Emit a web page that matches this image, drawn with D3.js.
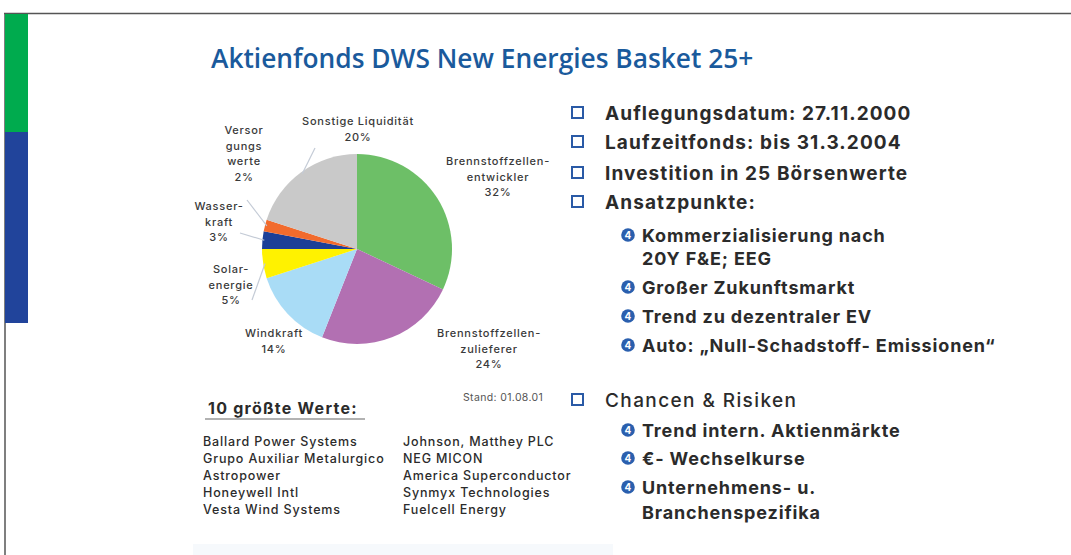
<!DOCTYPE html>
<html>
<head>
<meta charset="utf-8">
<script src="https://cdn.jsdelivr.net/npm/d3@7"></script>
<style>
  body { margin: 0; background: #fff; }
  svg { display: block; }
</style>
</head>
<body>
<div id="chart"></div>
<script>
// pie data
var categories = ["Brennstoffzellen-entwickler", "Brennstoffzellen-zulieferer", "Windkraft", "Solarenergie", "Wasserkraft", "Versorgungswerte", "Sonstige Liquidität"];
var shares = [32, 24, 14, 5, 3, 2, 20];
var sliceColors = ["#6dbf67", "#b270b2", "#a9dcf6", "#fff200", "#1c3f97", "#f26b2d", "#c9c9c9"];
var labelLines = [
    ["Brennstoffzellen-", "entwickler", "32%"],
    ["Brennstoffzellen-", "zulieferer", "24%"],
    ["Windkraft", "14%"],
    ["Solar-", "energie", "5%"],
    ["Wasser-", "kraft", "3%"],
    ["Versor", "gungs", "werte", "2%"],
    ["Sonstige Liquidität", "20%"]
];

// text blocks
var mainPoints = ["Auflegungsdatum: 27.11.2000", "Laufzeitfonds: bis 31.3.2004", "Investition in 25 Börsenwerte", "Ansatzpunkte:"];
var ansatzPoints = [["Kommerzialisierung nach", "20Y F&E; EEG"], ["Großer Zukunftsmarkt"], ["Trend zu dezentraler EV"], ["Auto: „Null-Schadstoff- Emissionen“"]];
var chancenPoints = [["Trend intern. Aktienmärkte"], ["€- Wechselkurse"], ["Unternehmens- u.", "Branchenspezifika"]];
var topHoldingsLeft = ["Ballard Power Systems", "Grupo Auxiliar Metalurgico", "Astropower", "Honeywell Intl", "Vesta Wind Systems"];
var topHoldingsRight = ["Johnson, Matthey PLC", "NEG MICON", "America Superconductor", "Synmyx Technologies", "Fuelcell Energy"];

var W = 1071, H = 555;
var FONT = "Inter, Liberation Sans, Arial";
var svg = d3.select("#chart").append("svg").attr("width", W).attr("height", H);

// frame + side bars
svg.append("line").attr("x1", 4).attr("x2", W).attr("y1", 13.5).attr("y2", 13.5).attr("stroke", "#555").attr("stroke-width", 1.5);
svg.append("line").attr("x1", 5).attr("x2", 5).attr("y1", 13).attr("y2", H).attr("stroke", "#555").attr("stroke-width", 1.5);
svg.append("rect").attr("x", 5).attr("y", 14).attr("width", 23).attr("height", 118).attr("fill", "#00ab4e");
svg.append("rect").attr("x", 5).attr("y", 132).attr("width", 23).attr("height", 191).attr("fill", "#21449b");
svg.append("rect").attr("x", 193).attr("y", 544).attr("width", 420).attr("height", 11).attr("fill", "#f6f9fc");

// title
svg.append("text").attr("x", 211).attr("y", 68)
    .attr("font-family", "Open Sans").attr("font-weight", 600).attr("font-size", 26.3)
    .attr("fill", "#1a5a9c").text("Aktienfonds DWS New Energies Basket 25+");

// pie
var cx = 357, cy = 249, r = 95;
var pie = d3.pie().sort(null).value(function(d) { return d; });
var arc = d3.arc().innerRadius(0).outerRadius(r);
var pg = svg.append("g").attr("transform", "translate(" + cx + "," + cy + ")");
pg.selectAll("path").data(pie(shares)).enter().append("path")
    .attr("d", arc)
    .attr("fill", function(d, i) { return sliceColors[i]; });

// label placement relative to pie centre
var labelPos = [[141, -84], [132, 88], [-83, 88], [-126, 24], [-138, -39], [-113, -115], [1, -124]];
var lg = pg.append("g").attr("font-family", FONT).attr("font-size", 11).attr("font-weight", 500)
    .attr("fill", "#3a3a3a").attr("letter-spacing", 0.75).attr("text-anchor", "middle");
labelLines.forEach(function(lines, i) {
    var t = lg.append("text").attr("x", labelPos[i][0]).attr("y", labelPos[i][1]);
    lines.forEach(function(s, j) {
        t.append("tspan").attr("x", labelPos[i][0]).attr("dy", j === 0 ? 0 : 15.5).text(s);
    });
});

// leader lines for small slices
var leader = d3.arc().innerRadius(r * 0.98).outerRadius(r * 0.98);
var leaderEnds = { 3: [-105, 51], 4: [-117, -16], 5: [-110, -49], 6: [-42, -101] };
Object.keys(leaderEnds).forEach(function(k) {
    var c = leader.centroid(pie(shares)[k]);
    pg.append("line").attr("x1", c[0]).attr("y1", c[1])
        .attr("x2", leaderEnds[k][0]).attr("y2", leaderEnds[k][1])
        .attr("stroke", "#c4cbd6").attr("stroke-width", 1.2);
});

// bullets
function square(y) {
    svg.append("rect").attr("x", 572).attr("y", y - 6).attr("width", 11).attr("height", 11)
        .attr("fill", "none").attr("stroke", "#2a5aa6").attr("stroke-width", 2);
}
function dot(y) {
    svg.append("circle").attr("cx", 628).attr("cy", y).attr("r", 6.8).attr("fill", "#2a5fae");
    svg.append("text").attr("x", 628).attr("y", y + 3.6).attr("text-anchor", "middle")
        .attr("font-family", FONT).attr("font-weight", "bold").attr("font-size", 10)
        .attr("fill", "#fff").text("4");
}
function txt(x, y, s, size, weight, spacing) {
    var t = svg.append("text").attr("x", x).attr("y", y).attr("font-family", FONT)
        .attr("font-size", size).attr("font-weight", weight).attr("fill", "#2b2b2b")
        .attr("letter-spacing", spacing || 0).text(s);
    return t;
}

var mainY = [113, 142, 173, 202];
mainPoints.forEach(function(s, i) { square(mainY[i]); txt(605, mainY[i] + 7, s, 19, "bold", 1.1); });

var ansatzY = [[235, 258], [287], [316], [345]];
ansatzPoints.forEach(function(lines, i) {
    dot(ansatzY[i][0]);
    lines.forEach(function(s, j) { txt(642, ansatzY[i][j] + 6.5, s, 18, "bold", 0.85); });
});

square(400);
txt(605, 407, "Chancen & Risiken", 19, 500, 1.4);
var chancenY = [[430], [458], [487, 512]];
chancenPoints.forEach(function(lines, i) {
    dot(chancenY[i][0]);
    lines.forEach(function(s, j) { txt(642, chancenY[i][j] + 6.5, s, 18, "bold", 0.85); });
});

// holdings
txt(208, 414, "10 größte Werte:", 16, "bold", 1.25);
svg.append("line").attr("x1", 205).attr("x2", 365).attr("y1", 419).attr("y2", 419).attr("stroke", "#666").attr("stroke-width", 1.2);
svg.append("text").attr("x", 463).attr("y", 401).attr("font-family", FONT)
    .attr("font-size", 10.5).attr("fill", "#555").attr("letter-spacing", 0.35).text("Stand: 01.08.01");

var rowY = d3.scaleLinear().domain([0, 4]).range([446, 514]);
function holding(x, y, s) {
    txt(x, y, s, 12.5, 500, 0.85);
}
topHoldingsLeft.forEach(function(s, i) { holding(203, rowY(i), s); });
topHoldingsRight.forEach(function(s, i) { holding(403, rowY(i), s); });
</script>
</body>
</html>
